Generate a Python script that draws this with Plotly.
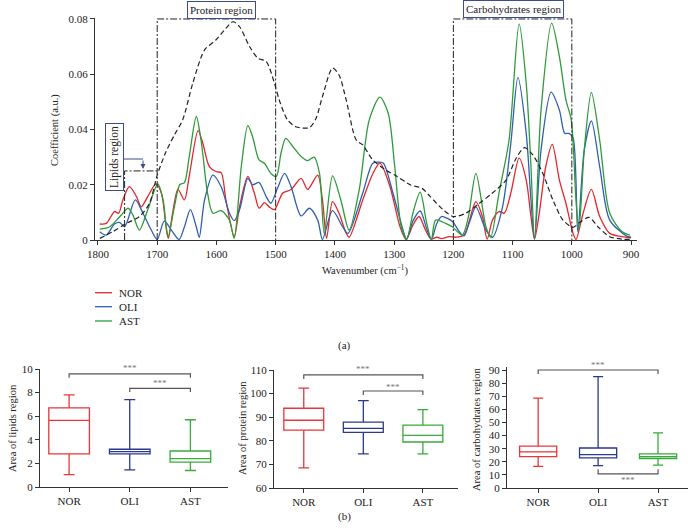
import plotly.graph_objects as go

W, H = 688, 529
FONT = "Liberation Serif"

# ---- spectra (wavenumber, coefficient) ----
nor_wn = [1797, 1786, 1772, 1765, 1758, 1747, 1735, 1727, 1716, 1702, 1693, 1685, 1681, 1674, 1665, 1654,
          1646, 1631, 1623, 1612, 1600, 1592, 1584, 1570, 1561, 1547, 1536, 1528, 1519, 1511, 1502, 1488,
          1474, 1457, 1446, 1429, 1421, 1414, 1404, 1393, 1382, 1376, 1353, 1336, 1324, 1307, 1290, 1280,
          1268, 1258, 1247, 1238, 1228, 1220, 1207, 1196, 1182, 1162, 1151, 1143, 1134, 1123, 1114, 1103,
          1089, 1077, 1069, 1063, 1055, 1044, 1033, 1021, 1010, 998, 993, 981, 967, 953, 936, 908, 900]
nor_val = [0.0058, 0.0060, 0.0103, 0.0097, 0.0145, 0.0193, 0.0157, 0.0120, 0.0157, 0.0203, 0.0170, 0.0050,
           0.0006, 0.0097, 0.0183, 0.0145, 0.0230, 0.0396, 0.0350, 0.0266, 0.0247, 0.0244, 0.0145, 0.0012,
           0.0120, 0.0230, 0.0170, 0.0115, 0.0135, 0.0120, 0.0110, 0.0170, 0.0183, 0.0223, 0.0183, 0.0235,
           0.0145, 0.0006, 0.0139, 0.0097, 0.0030, 0.0010, 0.0145, 0.0240, 0.0278, 0.0193, 0.0048, 0.0002,
           0.0055, 0.0085, 0.0036, 0.0004, 0.0010, 0.0005, 0.0012, 0.0010, 0.0018, 0.0139, 0.0085, 0.0003,
           0.0072, 0.0103, 0.0097, 0.0170, 0.0296, 0.0217, 0.0085, 0.0003, 0.0097, 0.0266, 0.0346, 0.0217,
           0.0133, 0.0024, 0.0002, 0.0097, 0.0183, 0.0085, 0.0024, 0.0010, 0.0008]

oli_wn = [1797, 1786, 1772, 1763, 1755, 1737, 1724, 1710, 1700, 1688, 1676, 1663, 1654, 1644, 1634, 1629,
          1620, 1606, 1592, 1578, 1570, 1561, 1547, 1539, 1528, 1516, 1508, 1497, 1485, 1474, 1457, 1443,
          1429, 1421, 1404, 1387, 1378, 1353, 1336, 1325, 1318, 1302, 1285, 1279, 1268, 1256, 1245, 1237,
          1228, 1220, 1210, 1201, 1190, 1182, 1172, 1162, 1145, 1134, 1117, 1103, 1091, 1077, 1069, 1063,
          1052, 1035, 1021, 1012, 1005, 998, 990, 979, 967, 953, 936, 908, 900]
oli_val = [0.0030, 0.0018, 0.0058, 0.0063, 0.0048, 0.0145, 0.0097, 0.0036, 0.0002, 0.0068, 0.0036, 0.0002,
           0.0048, 0.0110, 0.0048, 0.0010, 0.0145, 0.0235, 0.0193, 0.0097, 0.0070, 0.0109, 0.0223, 0.0200,
           0.0208, 0.0157, 0.0133, 0.0187, 0.0241, 0.0193, 0.0087, 0.0115, 0.0072, 0.0002, 0.0106, 0.0048,
           0.0024, 0.0170, 0.0278, 0.0282, 0.0278, 0.0170, 0.0036, 0.0002, 0.0070, 0.0105, 0.0040, 0.0002,
           0.0060, 0.0085, 0.0078, 0.0066, 0.0030, 0.0015, 0.0070, 0.0120, 0.0036, 0.0010, 0.0120, 0.0350,
           0.0589, 0.0386, 0.0145, 0.0003, 0.0326, 0.0535, 0.0470, 0.0386, 0.0386, 0.0370, 0.0030, 0.0326,
           0.0431, 0.0266, 0.0072, 0.0015, 0.0010]

ast_wn = [1797, 1780, 1763, 1749, 1741, 1730, 1716, 1699, 1690, 1682, 1671, 1662, 1654, 1646, 1634, 1626,
          1615, 1606, 1592, 1578, 1570, 1558, 1547, 1539, 1528, 1519, 1508, 1499, 1491, 1483, 1471, 1457,
          1446, 1435, 1426, 1418, 1404, 1390, 1376, 1359, 1342, 1324, 1310, 1299, 1288, 1279, 1268, 1256,
          1245, 1237, 1230, 1213, 1202, 1185, 1175, 1162, 1145, 1137, 1123, 1106, 1089, 1077, 1069, 1063,
          1052, 1034, 1021, 1010, 1001, 993, 988, 979, 967, 953, 936, 915, 902]
ast_val = [0.0039, 0.0048, 0.0085, 0.0115, 0.0090, 0.0036, 0.0109, 0.0203, 0.0145, 0.0010, 0.0120, 0.0200,
           0.0208, 0.0300, 0.0447, 0.0362, 0.0170, 0.0097, 0.0106, 0.0072, 0.0006, 0.0266, 0.0414, 0.0374,
           0.0290, 0.0278, 0.0241, 0.0230, 0.0314, 0.0368, 0.0338, 0.0302, 0.0287, 0.0300, 0.0241, 0.0024,
           0.0232, 0.0145, 0.0036, 0.0181, 0.0435, 0.0517, 0.0459, 0.0266, 0.0048, 0.0002, 0.0100, 0.0173,
           0.0060, 0.0002, 0.0072, 0.0060, 0.0048, 0.0018, 0.0080, 0.0241, 0.0048, 0.0010, 0.0170, 0.0362,
           0.0782, 0.0567, 0.0266, 0.0003, 0.0470, 0.0785, 0.0664, 0.0507, 0.0435, 0.0145, 0.0036, 0.0326,
           0.0534, 0.0362, 0.0097, 0.0030, 0.0018]

mean_wn = [1797, 1775, 1752, 1730, 1713, 1700, 1685, 1671, 1657, 1640, 1620, 1601, 1584, 1572, 1561, 1544,
           1530, 1516, 1502, 1494, 1480, 1466, 1443, 1432, 1421, 1404, 1393, 1381, 1364, 1353, 1336, 1314,
           1295, 1273, 1253, 1239, 1217, 1200, 1179, 1156, 1134, 1111, 1094, 1080, 1066, 1049, 1032, 1015,
           998, 987, 971, 956, 936, 914, 900]
mean_val = [0.0006, 0.0030, 0.0060, 0.0085, 0.0133, 0.0235, 0.0320, 0.0380, 0.0435, 0.0567, 0.0688, 0.0724,
            0.0766, 0.0790, 0.0772, 0.0700, 0.0658, 0.0646, 0.0567, 0.0507, 0.0435, 0.0410, 0.0407, 0.0440,
            0.0519, 0.0622, 0.0597, 0.0507, 0.0362, 0.0344, 0.0290, 0.0253, 0.0230, 0.0200, 0.0187, 0.0157,
            0.0109, 0.0085, 0.0097, 0.0133, 0.0170, 0.0217, 0.0296, 0.0334, 0.0308, 0.0241, 0.0145, 0.0072,
            0.0046, 0.0063, 0.0082, 0.0048, 0.0012, 0.0003, 0.0002]

wn_ticks = [1800, 1700, 1600, 1500, 1400, 1300, 1200, 1100, 1000, 900]
coef_ticks = [0, 0.02, 0.04, 0.06, 0.08]
coef_ticktext = ["0", "0.02", "0.04", "0.06", "0.08"]

# ---- box plot stats: NOR, OLI, AST ----
groups = ["NOR", "OLI", "AST"]
lip_min = [1.05, 1.45, 1.4]
lip_q1 = [2.8, 2.8, 2.1]
lip_med = [5.65, 3.0, 2.4]
lip_q3 = [6.7, 3.2, 3.05]
lip_max = [7.8, 7.4, 5.7]

pro_min = [68.5, 74.5, 74.5]
pro_q1 = [84.5, 83.6, 79.5]
pro_med = [88.7, 85.3, 82.3]
pro_q3 = [93.8, 87.9, 86.6]
pro_max = [102.3, 97.0, 93.2]

carb_min = [16.5, 17.0, 17.5]
carb_q1 = [24.0, 23.0, 22.5]
carb_med = [27.5, 25.5, 24.0]
carb_q3 = [32.0, 30.5, 26.0]
carb_max = [68.5, 85.0, 42.0]

spec_colors = {"NOR": "#e5262b", "OLI": "#2f5fae", "AST": "#2e9a3a"}
box_colors = ["#e8363a", "#2b3a8a", "#3aaa3a"]


def px(x):
    return x / W


def py(y):
    return 1 - y / H


fig = go.Figure()

# top spectra
for name, xs, ys in [("NOR", nor_wn, nor_val), ("OLI", oli_wn, oli_val), ("AST", ast_wn, ast_val)]:
    fig.add_trace(go.Scatter(x=xs, y=ys, mode="lines", name=name,
                             line=dict(color=spec_colors[name], width=1.3, shape="spline", smoothing=0.8),
                             xaxis="x", yaxis="y", showlegend=False))
fig.add_trace(go.Scatter(x=mean_wn, y=mean_val, mode="lines", name="mean",
                         line=dict(color="#222", width=1.2, dash="5px,3px", shape="spline", smoothing=0.8),
                         xaxis="x", yaxis="y", showlegend=False))

# box plots
panels = [
    ("x2", "y2", lip_min, lip_q1, lip_med, lip_q3, lip_max, 0.67),
    ("x3", "y3", pro_min, pro_q1, pro_med, pro_q3, pro_max, 0.67),
    ("x4", "y4", carb_min, carb_q1, carb_med, carb_q3, carb_max, 0.62),
]
for xa, ya, mn, q1, md, q3, mx, bw in panels:
    for i, g in enumerate(groups):
        fig.add_trace(go.Box(x=[i], q1=[q1[i]], median=[md[i]], q3=[q3[i]],
                             lowerfence=[mn[i]], upperfence=[mx[i]], width=bw, whiskerwidth=0.27,
                             line=dict(color=box_colors[i], width=1.3), fillcolor="rgba(0,0,0,0)",
                             boxpoints=False, xaxis=xa, yaxis=ya, showlegend=False, name=g))

axis_common = dict(showline=True, linecolor="#333", linewidth=1, ticks="outside", ticklen=4,
                   tickcolor="#333", showgrid=False, zeroline=False, automargin=False,
                   tickfont=dict(family=FONT, size=11, color="#222"))

layout = dict(
    width=W, height=H, margin=dict(l=0, r=0, t=0, b=0),
    paper_bgcolor="white", plot_bgcolor="white",
    font=dict(family=FONT, size=11, color="#222"),
    xaxis=dict(axis_common, range=[1805, 890], domain=[px(95), px(637)], anchor="y",
               tickvals=wn_ticks),
    yaxis=dict(axis_common, range=[0, 0.0805], domain=[py(240), py(17.6)], anchor="x",
               tickvals=coef_ticks, ticktext=coef_ticktext),
    xaxis2=dict(axis_common, range=[-0.48, 2.62], domain=[px(40), px(228)], anchor="y2",
                tickvals=[0, 1, 2], ticktext=groups),
    yaxis2=dict(axis_common, range=[0, 10], domain=[py(487), py(369)], anchor="x2",
                tickvals=[0, 2, 4, 6, 8, 10]),
    xaxis3=dict(axis_common, range=[-0.5, 2.59], domain=[px(274), px(458)], anchor="y3",
                tickvals=[0, 1, 2], ticktext=groups),
    yaxis3=dict(axis_common, range=[60, 110], domain=[py(488), py(370)], anchor="x3",
                tickvals=[60, 70, 80, 90, 100, 110]),
    xaxis4=dict(axis_common, range=[-0.52, 2.5], domain=[px(507), 1.0], anchor="y4",
                tickvals=[0, 1, 2], ticktext=groups),
    yaxis4=dict(axis_common, range=[0, 92], domain=[py(488), py(367.4)], anchor="x4",
                tickvals=list(range(0, 100, 10))),
)
fig.update_layout(**layout)

shapes = []
dd = dict(color="#222", width=1, dash="7px,2px,2px,2px")
# region frames
shapes.append(dict(type="path", xref="x", yref="y", path="M 1755,0 L 1755,0.025 L 1700,0.025", line=dd))
shapes.append(dict(type="path", xref="x", yref="y", path="M 1700,0 L 1700,0.08 L 1500,0.08 L 1500,0", line=dd))
shapes.append(dict(type="path", xref="x", yref="y", path="M 1200,0 L 1200,0.08 L 1000,0.08 L 1000,0", line=dd))
# arrow from lipids label
shapes.append(dict(type="line", xref="paper", yref="paper", x0=px(123), y0=py(159), x1=px(143), y1=py(159),
                   line=dict(color="#3d4b8f", width=1)))

# legend
for name, yy in [("NOR", 292.7), ("OLI", 306.7), ("AST", 321)]:
    shapes.append(dict(type="line", xref="paper", yref="paper", x0=px(95), x1=px(112), y0=py(yy), y1=py(yy),
                       line=dict(color=spec_colors[name], width=1.3)))

# significance brackets: axes, from, to, bar level, end level, star pixel row
brackets = [
    ("x2", "y2", 0, 2, 9.58, 9.26, 368),
    ("x2", "y2", 1, 2, 8.36, 8.05, 383),
    ("x3", "y3", 0, 2, 107.9, 106.2, 369),
    ("x3", "y3", 1, 2, 101.1, 99.4, 386.5),
    ("x4", "y4", 0, 2, 90.0, 87.0, 365),
    ("x4", "y4", 1, 2, 10.7, 14.3, 479.5),
]
annotations = []
for xa, ya, a, b, yb, ye, star_y in brackets:
    shapes.append(dict(type="path", xref=xa, yref=ya,
                       path=f"M {a},{ye} L {a},{yb} L {b},{yb} L {b},{ye}",
                       line=dict(color="#555", width=1.2)))
    annotations.append(dict(xref=xa, yref="paper", x=(a + b) / 2, y=py(star_y), text="***", showarrow=False,
                            xanchor="center", yanchor="middle",
                            font=dict(family=FONT, size=9, color="#777")))

fig.update_layout(shapes=shapes)


def ann(x, y, text, size=11, angle=0, **kw):
    d = dict(xref="paper", yref="paper", x=px(x), y=py(y), text=text, showarrow=False,
             xanchor="center", yanchor="middle",
             textangle=angle, font=dict(family=FONT, size=size, color="#222"))
    d.update(kw)
    annotations.append(d)


ann(365, 270, "Wavenumber (cm<sup>−1</sup>)", size=10.5)
ann(55, 130, "Coefficient (a.u.)", size=10.5, angle=-90)
for name, yy in [("NOR", 292.7), ("OLI", 306.7), ("AST", 321)]:
    ann(117, yy, name, size=11, xanchor="left")
ann(344, 345, "(a)", size=11)
ann(344, 516, "(b)", size=11)
ann(12, 428, "Area of lipids region", size=10.5, angle=-90)
ann(242, 428, "Area of protein region", size=10.5, angle=-90)
ann(476, 430, "Area of carbohydrates region", size=10.5, angle=-90)

box_lbl = dict(bordercolor="#3d4b8f", borderwidth=1, bgcolor="white", borderpad=2)
ann(221, 10, "Protein region", size=11, **box_lbl)
ann(513, 8.5, "Carbohydrates region", size=11, **box_lbl)
ann(115, 157, "Lipids region", size=11.5, angle=-90, **box_lbl)
annotations.append(dict(xref="paper", yref="paper", x=px(143), y=py(169), ax=0, ay=-10, text="",
                        showarrow=True, arrowhead=2, arrowsize=1, arrowwidth=1, arrowcolor="#3d4b8f"))

fig.update_layout(annotations=annotations)

# page body has a default margin; drop it so the figure sits at the window origin
fig.write_html("out.html", config={"displayModeBar": False},
               post_script="document.body.style.margin='0';")
